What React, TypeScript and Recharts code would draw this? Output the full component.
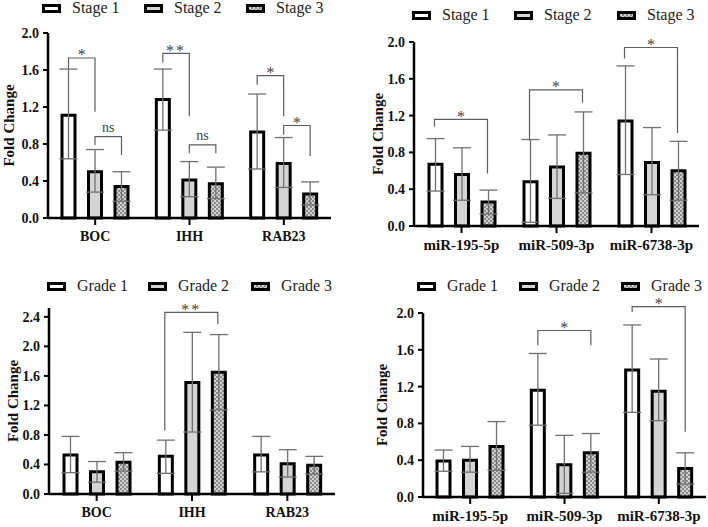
import { BarChart, Bar, XAxis, YAxis, ErrorBar, Legend, Customized } from "recharts";

const SERIF = '"Liberation Serif", "Times New Roman", serif';

// categories
const genes = ["BOC", "IHH", "RAB23"];
const mirs = ["miR-195-5p", "miR-509-3p", "miR-6738-3p"];
const stageNames = ["Stage 1", "Stage 2", "Stage 3"];
const gradeNames = ["Grade 1", "Grade 2", "Grade 3"];

// genes by stage (mean, [lower whisker, upper whisker])
const geneStage1 = [1.11, 1.28, 0.93];
const geneStage1Err = [[0.64, 1.61], [0.95, 1.61], [0.53, 1.34]];
const geneStage2 = [0.5, 0.41, 0.59];
const geneStage2Err = [[0.28, 0.74], [0.23, 0.61], [0.33, 0.87]];
const geneStage3 = [0.34, 0.37, 0.26];
const geneStage3Err = [[0.18, 0.5], [0.21, 0.55], [0.14, 0.39]];

// miRNAs by stage
const mirStage1 = [0.67, 0.48, 1.14];
const mirStage1Err = [[0.38, 0.95], [0.04, 0.94], [0.56, 1.74]];
const mirStage2 = [0.56, 0.64, 0.69];
const mirStage2Err = [[0.28, 0.85], [0.3, 0.99], [0.34, 1.07]];
const mirStage3 = [0.26, 0.79, 0.6];
const mirStage3Err = [[0.13, 0.39], [0.36, 1.24], [0.28, 0.92]];

// genes by grade
const geneGrade1 = [0.53, 0.51, 0.53];
const geneGrade1Err = [[0.29, 0.78], [0.28, 0.73], [0.3, 0.78]];
const geneGrade2 = [0.3, 1.51, 0.41];
const geneGrade2Err = [[0.16, 0.44], [0.84, 2.19], [0.23, 0.6]];
const geneGrade3 = [0.43, 1.65, 0.39];
const geneGrade3Err = [[0.31, 0.56], [1.14, 2.16], [0.27, 0.51]];

// miRNAs by grade
const mirGrade1 = [0.39, 1.16, 1.38];
const mirGrade1Err = [[0.28, 0.51], [0.78, 1.56], [0.92, 1.87]];
const mirGrade2 = [0.4, 0.35, 1.15];
const mirGrade2Err = [[0.27, 0.55], [0.04, 0.67], [0.83, 1.5]];
const mirGrade3 = [0.55, 0.48, 0.31];
const mirGrade3Err = [[0.29, 0.82], [0.27, 0.69], [0.14, 0.48]];

// significance brackets: category, bar from/to, bracket level, leg ends
const geneStageSig = [
  { cat: 0, from: 0, to: 1, top: 1.73, legA: 1.6, legB: 1.15, mark: "*" },
  { cat: 0, from: 1, to: 2, top: 0.88, legA: 0.79, legB: 0.68, mark: "ns" },
  { cat: 1, from: 0, to: 1, top: 1.78, legA: 1.68, legB: 1.1, mark: "**" },
  { cat: 1, from: 1, to: 2, top: 0.79, legA: 0.7, legB: 0.7, mark: "ns" },
  { cat: 2, from: 0, to: 1, top: 1.54, legA: 1.44, legB: 1.1, mark: "*" },
  { cat: 2, from: 1, to: 2, top: 1.0, legA: 0.9, legB: 0.67, mark: "*" },
];
const mirStageSig = [
  { cat: 0, from: 0, to: 2, top: 1.16, legA: 1.08, legB: 0.57, mark: "*" },
  { cat: 1, from: 0, to: 2, top: 1.48, legA: 0.93, legB: 1.34, mark: "*" },
  { cat: 2, from: 0, to: 2, top: 1.94, legA: 1.82, legB: 1.01, mark: "*" },
];
const geneGradeSig = [
  { cat: 1, from: 0, to: 2, top: 2.46, legA: 0.86, legB: 2.3, mark: "**" },
];
const mirGradeSig = [
  { cat: 1, from: 0, to: 2, top: 1.81, legA: 1.65, legB: 1.65, mark: "*" },
  { cat: 2, from: 0, to: 2, top: 2.07, legA: 2.01, legB: 0.71, mark: "*" },
];

const BAR = 13;
const GAP = 13.5;
const FILLS = ["#ffffff", "#d4d4d4", "url(#PAT)"];
const CHECKER = "repeating-conic-gradient(#8a8a8a 0% 25%, #d2d2d2 0% 50%) 0 0 / 4px 4px";

function buildRows(cats, means, errs) {
  return cats.map((name, i) => {
    const row: any = { name };
    means.forEach((m, s) => {
      row[`s${s}`] = m[i];
      row[`e${s}`] = [m[i] - errs[s][i][0], errs[s][i][1] - m[i]];
    });
    return row;
  });
}

function LegendRow({ names, xs }) {
  return (
    <div style={{ position: "relative", height: 20 }}>
      {names.map((n, i) => (
        <div
          key={n}
          style={{ position: "absolute", left: xs[i], top: 0, height: 20, display: "flex", alignItems: "center" }}
        >
          <span
            style={{
              display: "inline-block",
              width: 19,
              height: 9,
              boxSizing: "border-box",
              border: "3px solid #000",
              background: i === 2 ? CHECKER : FILLS[i],
            }}
          />
          <span style={{ marginLeft: 11, fontFamily: SERIF, fontSize: 16, color: "#222", lineHeight: "20px" }}>{n}</span>
        </div>
      ))}
    </div>
  );
}

function Annotations({ cfg, sig }) {
  const band = cfg.plotW / 3;
  const off = Math.floor((band - (3 * BAR + 2 * GAP)) / 2);
  const cx = (c, s) => cfg.plotLeft + c * band + off + s * (BAR + GAP) + BAR / 2;
  const yp = (v) => cfg.plotTop + cfg.plotH * (1 - v / cfg.yMax);
  return (
    <g>
      <text
        transform={`translate(${cfg.titleX},${cfg.plotTop + cfg.plotH / 2}) rotate(-90)`}
        textAnchor="middle"
        dominantBaseline="central"
        fontFamily={SERIF}
        fontWeight={700}
        fontSize={15}
        fill="#111"
      >
        Fold Change
      </text>
      {sig.map((b, i) => {
        const x1 = cx(b.cat, b.from);
        const x2 = cx(b.cat, b.to);
        const yt = yp(b.top);
        const ns = b.mark === "ns";
        return (
          <g key={i}>
            <path
              d={`M${x1},${yp(b.legA)}V${yt}H${x2}V${yp(b.legB)}`}
              fill="none"
              stroke="#5e5e5e"
              strokeWidth={1.2}
            />
            <text
              x={(x1 + x2) / 2}
              y={ns ? yt - 5 : yt + 2.5}
              textAnchor="middle"
              fontFamily={SERIF}
              fontSize={ns ? 14 : 16}
              letterSpacing={b.mark === "**" ? 2 : 0}
              fill="#444"
            >
              {b.mark}
            </text>
          </g>
        );
      })}
    </g>
  );
}

function Panel({ cfg, cats, names, means, errs, sig }) {
  const rows = buildRows(cats, means, errs);
  const patId = `chk-${cfg.id}`;
  const tickStyle = { fontFamily: SERIF, fontWeight: 700, fill: "#111" };
  return (
    <div style={{ position: "absolute", left: cfg.x, top: cfg.y }}>
      <BarChart
        width={cfg.w}
        height={cfg.h}
        data={rows}
        barSize={BAR}
        barGap={GAP}
        margin={{ top: cfg.plotTop, right: cfg.w - cfg.plotLeft - cfg.plotW, bottom: 0, left: 0 }}
      >
        <defs>
          <pattern id={patId} width={4} height={4} patternUnits="userSpaceOnUse">
            <rect width={4} height={4} fill="#d2d2d2" />
            <rect width={2} height={2} fill="#8a8a8a" />
            <rect x={2} y={2} width={2} height={2} fill="#8a8a8a" />
          </pattern>
        </defs>
        <XAxis
          dataKey="name"
          height={cfg.h - cfg.plotTop - cfg.plotH}
          axisLine={{ stroke: "#000", strokeWidth: 2.5 }}
          tickLine={{ stroke: "#000", strokeWidth: 2 }}
          tickSize={7}
          tickMargin={6}
          tick={{ ...tickStyle, fontSize: cfg.catFont }}
          interval={0}
        />
        <YAxis
          width={cfg.plotLeft}
          domain={[0, cfg.yMax]}
          ticks={cfg.ticks}
          tickFormatter={(v) => v.toFixed(1)}
          axisLine={{ stroke: "#000", strokeWidth: 2.5 }}
          tickLine={{ stroke: "#000", strokeWidth: 2 }}
          tickSize={5}
          tickMargin={4}
          tick={{ ...tickStyle, fontSize: 14 }}
        />
        <Legend
          layout="vertical"
          align="center"
          verticalAlign="middle"
          wrapperStyle={{ left: 0, top: cfg.legendY - 10, width: cfg.w, height: 20 }}
          content={() => <LegendRow names={names} xs={cfg.legendX} />}
        />
        {names.map((n, s) => (
          <Bar
            key={n}
            name={n}
            dataKey={`s${s}`}
            fill={s === 2 ? `url(#${patId})` : FILLS[s]}
            stroke="#000"
            strokeWidth={3}
            isAnimationActive={false}
          >
            <ErrorBar dataKey={`e${s}`} width={9} stroke="#707070" strokeWidth={1.3} />
          </Bar>
        ))}
        <Customized component={<Annotations cfg={cfg} sig={sig} />} />
      </BarChart>
    </div>
  );
}

const ticks20 = [0, 0.4, 0.8, 1.2, 1.6, 2.0];
const ticks24 = [0, 0.4, 0.8, 1.2, 1.6, 2.0, 2.4];

const cfgA = { id: "a", x: 0, y: 0, w: 354, h: 264, plotLeft: 48, plotW: 283, plotTop: 33, plotH: 185, yMax: 2, ticks: ticks20, catFont: 14, titleX: 9, legendY: 8, legendX: [42, 144, 246] };
const cfgB = { id: "b", x: 354, y: 0, w: 354, h: 264, plotLeft: 60, plotW: 285, plotTop: 42, plotH: 184, yMax: 2, ticks: ticks20, catFont: 15, titleX: 24, legendY: 15, legendX: [58, 160, 263] };
const cfgC = { id: "c", x: 0, y: 264, w: 354, h: 263, plotLeft: 49, plotW: 286, plotTop: 44, plotH: 186, yMax: 2.52, ticks: ticks24, catFont: 14, titleX: 13, legendY: 22, legendX: [47, 148, 251] };
const cfgD = { id: "d", x: 354, y: 264, w: 354, h: 263, plotLeft: 69, plotW: 283, plotTop: 49, plotH: 184, yMax: 2, ticks: ticks20, catFont: 15, titleX: 28, legendY: 22, legendX: [63, 165, 267] };

export default function App() {
  return (
    <div style={{ position: "absolute", left: 0, top: 0, width: 708, height: 527, background: "#fff", overflow: "hidden" }}>
      <Panel
        cfg={cfgA}
        cats={genes}
        names={stageNames}
        means={[geneStage1, geneStage2, geneStage3]}
        errs={[geneStage1Err, geneStage2Err, geneStage3Err]}
        sig={geneStageSig}
      />
      <Panel
        cfg={cfgB}
        cats={mirs}
        names={stageNames}
        means={[mirStage1, mirStage2, mirStage3]}
        errs={[mirStage1Err, mirStage2Err, mirStage3Err]}
        sig={mirStageSig}
      />
      <Panel
        cfg={cfgC}
        cats={genes}
        names={gradeNames}
        means={[geneGrade1, geneGrade2, geneGrade3]}
        errs={[geneGrade1Err, geneGrade2Err, geneGrade3Err]}
        sig={geneGradeSig}
      />
      <Panel
        cfg={cfgD}
        cats={mirs}
        names={gradeNames}
        means={[mirGrade1, mirGrade2, mirGrade3]}
        errs={[mirGrade1Err, mirGrade2Err, mirGrade3Err]}
        sig={mirGradeSig}
      />
    </div>
  );
}
